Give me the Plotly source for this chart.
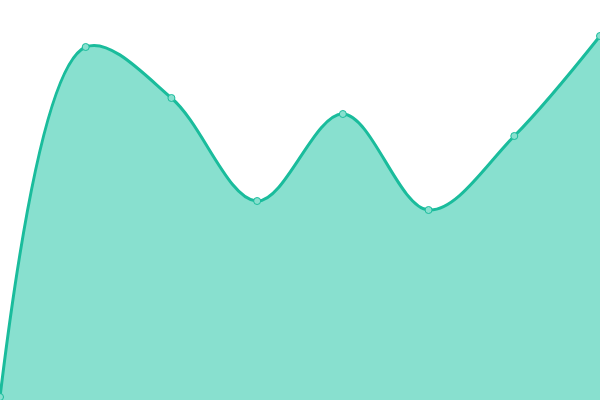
import plotly.graph_objects as go

x_vals = [0, 1, 2, 3, 4, 5, 6, 7]
y_vals = [3, 353, 302, 199, 286, 190, 264, 364]

fig = go.Figure()
fig.add_trace(go.Scatter(
    x=x_vals, y=y_vals,
    mode="lines+markers",
    line=dict(color="#1abc9c", width=3, shape="spline", smoothing=1.0),
    fill="tozeroy",
    fillcolor="#88e0cf",
    marker=dict(size=7, color="#88e0cf", line=dict(color="#1abc9c", width=1)),
    cliponaxis=False,
    hoverinfo="skip",
))
fig.update_layout(
    width=600, height=400,
    margin=dict(l=0, r=0, t=0, b=0),
    paper_bgcolor="white", plot_bgcolor="white",
    showlegend=False,
    xaxis=dict(range=[0, 7], visible=False, fixedrange=True),
    yaxis=dict(range=[0, 400], visible=False, fixedrange=True),
)
fig.write_html(
    "out.html",
    config={"displayModeBar": False},
    post_script="document.body.style.margin='0';document.body.style.overflow='hidden';",
)
